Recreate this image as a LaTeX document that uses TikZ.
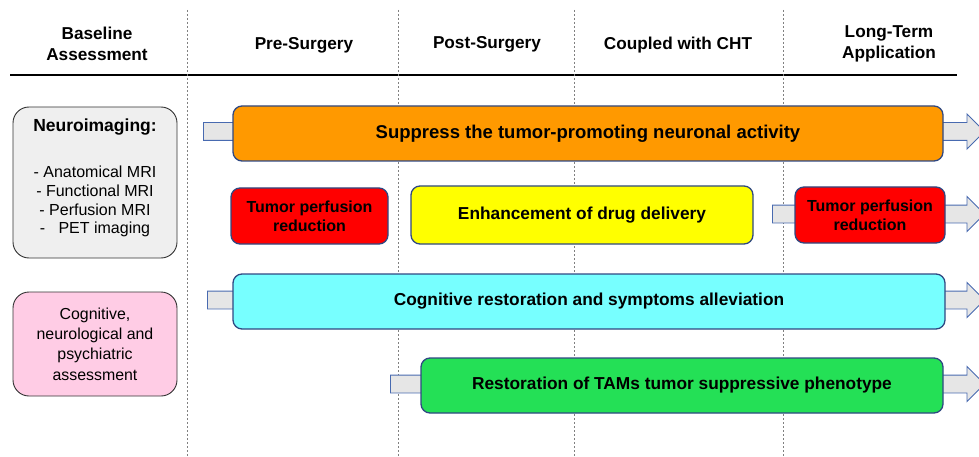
\documentclass[tikz,border=0pt]{standalone}
\usepackage{fontspec}
\setmainfont{Liberation Sans}
\usetikzlibrary{shapes.arrows}
\definecolor{boxline}{RGB}{47,72,130}
\definecolor{arrline}{RGB}{72,106,176}
\definecolor{arrfill}{RGB}{230,230,230}
\definecolor{supporange}{RGB}{255,153,0}
\definecolor{perfred}{RGB}{255,0,0}
\definecolor{drugyellow}{RGB}{255,255,0}
\definecolor{cogcyan}{RGB}{119,255,255}
\definecolor{tamgreen}{RGB}{36,224,86}
\definecolor{imggrey}{RGB}{239,239,239}
\definecolor{assesspink}{RGB}{255,204,229}

\begin{document}
\begin{tikzpicture}[
    x=1pt, y=-1pt,
    head/.style={align=center, font=\bfseries\fontsize{17.2}{21.5}\selectfont},
    phase/.style={draw=boxline, line width=1.3pt, rounded corners=9pt, align=center,
      inner sep=0pt, font=\bfseries\fontsize{17.3}{19}\selectfont},
    side/.style={draw=black!80, line width=0.9pt, rounded corners=16pt, align=center,
      inner sep=0pt, minimum width=164pt},
    barrow/.style={single arrow, draw=arrline, fill=arrfill, line width=0.9pt,
      inner sep=8.5pt, single arrow head extend=8.5pt, anchor=tail},
    sep/.style={gray, line width=0.6pt, dash pattern=on 2pt off 2pt}
  ]
    \useasboundingbox (0,0) rectangle (979,457);

    % column headers
    \node[head] (hbase) at (97,44) {Baseline\\Assessment};
    \node[head] (hpre) at (304,45) {Pre-Surgery};
    \node[head] (hpost) at (487,44) {Post-Surgery};
    \node[head] (hcht) at (678,45) {Coupled with CHT};
    \node[head] (hlong) at (889,44) {Long-Term\\Application};
    \draw[line width=1.8pt] (10,75) -- (957,75);

    % phase separators
    \foreach \x in {187,398,574,783}
      \draw[sep] (\x,10) -- (\x,457);

    % block arrows behind the boxes
    \node[barrow, minimum height=781pt] (asupp) at (203,131.5) {};
    \node[barrow, minimum height=212pt] (aperf) at (772,214) {};
    \node[barrow, minimum height=777pt] (acog) at (207,300) {};
    \node[barrow, minimum height=594pt] (atam) at (390,384) {};

    % treatment boxes
    \node[phase, fill=supporange, minimum width=710pt, minimum height=55pt,
      font=\bfseries\fontsize{18.5}{19}\selectfont] (supp) at (588,133.5)
      {Suppress the tumor-promoting neuronal activity};
    \node[phase, fill=perfred, minimum width=157pt, minimum height=56pt,
      font=\bfseries\fontsize{16}{19}\selectfont] (perfpre) at (309.5,216)
      {Tumor perfusion\\reduction};
    \node[phase, fill=drugyellow, minimum width=342pt, minimum height=58pt] (drug) at (582,215)
      {Enhancement of drug delivery};
    \node[phase, fill=perfred, minimum width=150pt, minimum height=56pt,
      font=\bfseries\fontsize{16}{19}\selectfont] (perflong) at (870,215)
      {Tumor perfusion\\reduction};
    \node[phase, fill=cogcyan, minimum width=712pt, minimum height=55pt] (cog) at (589,301.5)
      {Cognitive restoration and symptoms alleviation};
    \node[phase, fill=tamgreen, minimum width=522pt, minimum height=55pt] (tam) at (682,385.5)
      {Restoration of TAMs tumor suppressive phenotype};

    % baseline assessment
    \node[side, fill=imggrey, minimum height=151pt, font=\fontsize{16}{18.7}\selectfont] (img) at (95,182.5)
      {{\bfseries\fontsize{17.5}{18}\selectfont Neuroimaging:}\\[28pt]
       - Anatomical MRI\\- Functional MRI\\- Perfusion MRI\\-\ \ \ PET imaging\\[-6pt]};
    \node[side, fill=assesspink, minimum height=104pt, font=\fontsize{15.9}{20.3}\selectfont] (assess) at (95,344)
      {Cognitive,\\neurological and\\psychiatric\\assessment};
  \end{tikzpicture}
\end{document}
